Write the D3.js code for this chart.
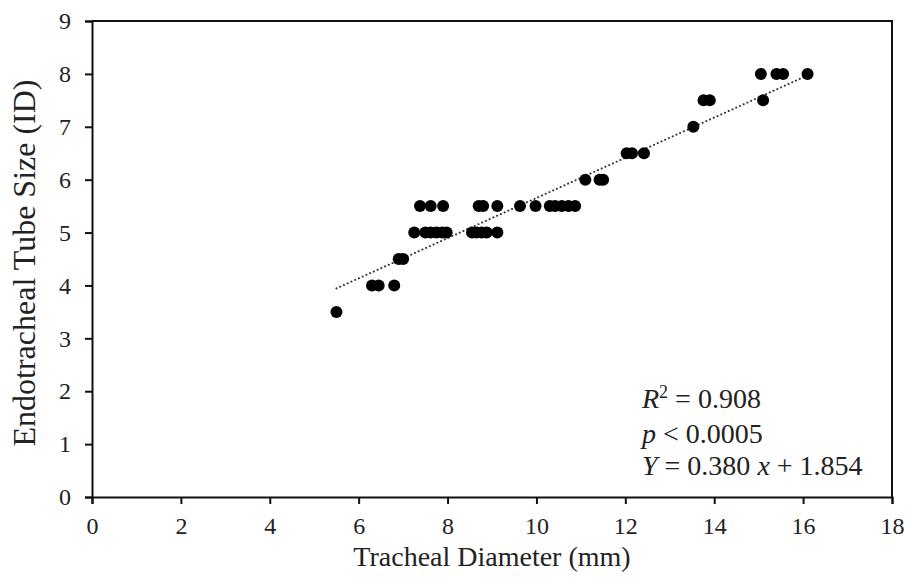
<!DOCTYPE html>
<html>
<head>
<meta charset="utf-8">
<script src="https://cdn.jsdelivr.net/npm/d3@7"></script>
<style>
  body { margin: 0; background: #fff; }
  text { font-family: "Liberation Serif", "Times New Roman", serif; fill: #222; }
</style>
</head>
<body>
<div id="chart"></div>
<script>
// Diâmetro traqueal (mm) x tamanho do tubo (ID)
const trachealDiameter = [
  5.5,
  6.3, 6.45, 6.8,
  6.9, 7.0,
  7.25, 7.5, 7.62, 7.75, 7.88, 7.98, 8.55, 8.65, 8.77, 8.88, 9.12,
  7.38, 7.62, 7.9, 8.7, 8.8, 9.12, 9.63, 9.98, 10.3, 10.42, 10.57, 10.72, 10.87,
  11.1, 11.42, 11.5,
  12.03, 12.15, 12.42,
  13.53,
  13.76, 13.9, 15.1,
  15.05, 15.4, 15.55, 16.1
];
const tubeSize = [
  3.5,
  4, 4, 4,
  4.5, 4.5,
  5, 5, 5, 5, 5, 5, 5, 5, 5, 5, 5,
  5.5, 5.5, 5.5, 5.5, 5.5, 5.5, 5.5, 5.5, 5.5, 5.5, 5.5, 5.5, 5.5,
  6, 6, 6,
  6.5, 6.5, 6.5,
  7,
  7.5, 7.5, 7.5,
  8, 8, 8, 8
];
const xTicks = [0, 2, 4, 6, 8, 10, 12, 14, 16, 18];
const yTicks = [0, 1, 2, 3, 4, 5, 6, 7, 8, 9];
const slope = 0.380;
const intercept = 1.854;
const fitRange = [5.5, 16.1];

const data = trachealDiameter.map((d, i) => ({ x: d, y: tubeSize[i] }));

const margin = { top: 21, right: 17, bottom: 84, left: 92 };
const width = 909 - margin.left - margin.right;
const height = 581 - margin.top - margin.bottom;

const svg = d3.select('#chart')
  .append('svg')
  .attr('width', 909)
  .attr('height', 581)
  .append('g')
  .attr('transform', `translate(${margin.left},${margin.top})`);

// Escalas
const x = d3.scaleLinear().domain([0, 18]).range([0, width]);
const y = d3.scaleLinear().domain([0, 9]).range([height, 0]);

// Moldura (topo e direita)
svg.append('path')
  .attr('d', `M0,0H${width}V${height}`)
  .attr('fill', 'none')
  .attr('stroke', '#111')
  .attr('stroke-width', 2);

// Eixos
const xAxis = svg.append('g')
  .attr('transform', `translate(0,${height})`)
  .call(d3.axisBottom(x).tickValues(xTicks).tickSize(7).tickPadding(13).tickFormat(d3.format('d')));

const yAxis = svg.append('g')
  .call(d3.axisLeft(y).tickValues(yTicks).tickSize(7).tickPadding(14).tickFormat(d3.format('d')));

[xAxis, yAxis].forEach(g => {
  g.select('.domain').attr('stroke', '#111').attr('stroke-width', 2);
  g.selectAll('.tick line').attr('stroke', '#111').attr('stroke-width', 2);
  g.selectAll('.tick text')
    .style('font-family', '"Liberation Serif", serif')
    .style('font-size', '24px')
    .attr('fill', '#222');
});

// Títulos dos eixos
svg.append('text')
  .attr('x', width / 2)
  .attr('y', height + 69)
  .style('text-anchor', 'middle')
  .style('font-size', '28px')
  .text('Tracheal Diameter (mm)');

svg.append('text')
  .attr('transform', 'rotate(-90)')
  .attr('x', -height / 2 - 4)
  .attr('y', -57)
  .style('text-anchor', 'middle')
  .style('font-size', '32px')
  .text('Endotracheal Tube Size (ID)');

// Linha de tendência pontilhada
svg.append('line')
  .attr('x1', x(fitRange[0]))
  .attr('y1', y(slope * fitRange[0] + intercept))
  .attr('x2', x(fitRange[1]))
  .attr('y2', y(slope * fitRange[1] + intercept))
  .attr('stroke', '#333')
  .attr('stroke-width', 2)
  .attr('stroke-linecap', 'round')
  .attr('stroke-dasharray', '0.1,4');

// Pontos
svg.selectAll('.dot')
  .data(data)
  .enter()
  .append('circle')
  .attr('class', 'dot')
  .attr('cx', d => x(d.x))
  .attr('cy', d => y(d.y))
  .attr('r', 6)
  .attr('fill', '#000');

// Anotação
const note = svg.append('text')
  .attr('x', 550)
  .style('font-size', '28px');

const l1 = note.append('tspan').attr('x', 550).attr('y', 387);
l1.append('tspan').style('font-style', 'italic').text('R');
l1.append('tspan').attr('dy', -10).style('font-size', '18px').text('2');
l1.append('tspan').attr('dy', 10).text(' = 0.908');

const l2 = note.append('tspan').attr('x', 550).attr('y', 422);
l2.append('tspan').style('font-style', 'italic').text('p');
l2.append('tspan').text(' < 0.0005');

const l3 = note.append('tspan').attr('x', 550).attr('y', 454);
l3.append('tspan').style('font-style', 'italic').text('Y');
l3.append('tspan').text(' = 0.380 ');
l3.append('tspan').style('font-style', 'italic').text('x');
l3.append('tspan').text(' + 1.854');
</script>
</body>
</html>
